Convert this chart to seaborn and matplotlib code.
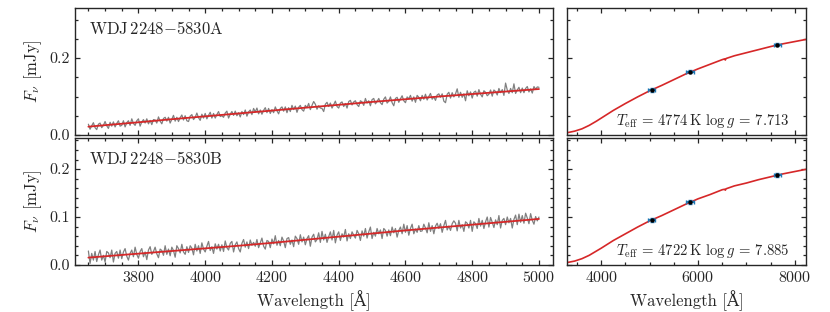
import numpy as np
import matplotlib
matplotlib.use("Agg")
import matplotlib.pyplot as plt
from matplotlib.ticker import MultipleLocator, AutoMinorLocator
import seaborn as sns

# ---- data (flux in 1e-3 mJy) ----
wave = np.arange(3650, 5001, 5)

flux_a = [
    28, 15, 24, 32, 19, 14, 28, 31, 19, 25, 35, 24, 17, 33, 23, 34, 21, 30, 37, 23,
    25, 37, 21, 32, 37, 25, 42, 30, 25, 37, 42, 23, 34, 40, 31, 42, 29, 38, 27, 40,
    39, 31, 47, 36, 29, 43, 46, 36, 46, 31, 41, 51, 36, 46, 35, 45, 52, 39, 50, 37,
    35, 49, 53, 40, 46, 57, 45, 38, 54, 44, 56, 42, 51, 59, 44, 56, 44, 53, 61, 48,
    50, 46, 57, 62, 44, 54, 61, 51, 62, 50, 58, 47, 61, 53, 65, 49, 60, 65, 53, 69,
    60, 70, 55, 65, 54, 64, 71, 58, 69, 56, 66, 58, 73, 63, 55, 69, 73, 62, 73, 58,
    71, 61, 77, 66, 75, 59, 72, 77, 66, 62, 77, 71, 82, 66, 77, 87, 80, 67, 76, 70,
    69, 61, 80, 85, 74, 83, 70, 79, 88, 74, 70, 83, 86, 74, 82, 70, 87, 90, 78, 86,
    89, 79, 74, 89, 86, 77, 95, 83, 89, 76, 92, 95, 81, 87, 95, 84, 79, 93, 99, 83,
    88, 99, 84, 76, 95, 98, 85, 94, 102, 89, 84, 99, 94, 103, 88, 99, 85, 103, 98, 89,
    103, 93, 106, 91, 100, 108, 93, 99, 90, 104, 107, 98, 107, 88, 84, 106, 111, 96, 110, 99,
    107, 120, 98, 111, 98, 107, 89, 115, 102, 112, 96, 111, 114, 101, 118, 106, 99, 115, 111, 102,
    106, 117, 101, 117, 113, 104, 121, 110, 118, 103, 135, 117, 108, 121, 110, 133, 108, 117, 124, 110,
    122, 110, 121, 126, 112, 120, 109, 126, 119, 125, 124,
]

flux_b = [
    29, 3, 24, 10, 28, 7, 21, 31, 10, 20, 6, 28, 25, 15, 31, 6, 24, 28, 14, 31,
    13, 27, 34, 18, 10, 24, 31, 17, 37, 22, 14, 28, 34, 17, 27, 11, 31, 38, 22, 28,
    37, 23, 15, 33, 30, 20, 40, 22, 33, 19, 37, 30, 16, 40, 34, 25, 43, 27, 22, 38,
    26, 40, 35, 21, 43, 29, 40, 24, 46, 33, 27, 39, 49, 30, 38, 24, 44, 33, 43, 29,
    42, 28, 50, 36, 31, 45, 49, 27, 42, 48, 34, 27, 45, 53, 37, 48, 34, 52, 41, 47,
    39, 53, 36, 46, 56, 39, 33, 51, 49, 36, 54, 44, 61, 41, 51, 40, 58, 50, 36, 55,
    57, 43, 52, 38, 60, 55, 43, 63, 48, 58, 42, 55, 61, 39, 58, 64, 48, 53, 67, 47,
    70, 52, 64, 47, 59, 69, 52, 72, 46, 62, 69, 51, 65, 58, 74, 50, 65, 55, 69, 62,
    56, 72, 65, 51, 71, 60, 76, 56, 69, 79, 55, 68, 60, 76, 65, 73, 55, 76, 72, 60,
    73, 61, 79, 67, 76, 58, 72, 79, 65, 85, 68, 82, 62, 76, 85, 65, 75, 68, 82, 70,
    71, 85, 77, 67, 88, 70, 82, 65, 81, 87, 76, 86, 68, 82, 93, 73, 81, 72, 86, 92,
    87, 71, 93, 77, 84, 70, 90, 87, 77, 93, 70, 90, 86, 76, 97, 81, 93, 76, 90, 100,
    79, 99, 89, 78, 94, 84, 103, 77, 93, 97, 84, 100, 88, 97, 77, 95, 104, 84, 106, 89,
    103, 87, 108, 98, 86, 107, 93, 85, 101, 92, 100,
]

# model fitted to the spectra (mJy)
mod_wave = [3650, 3700, 3800, 3900, 4000, 4100, 4200, 4300, 4400, 4500, 4600, 4700, 4800, 4900, 5000]
mod_a = [0.0216, 0.0255, 0.033, 0.041, 0.0485, 0.056, 0.0635, 0.071, 0.0785, 0.086, 0.093, 0.100, 0.1065, 0.113, 0.1195]
mod_b = [0.0152, 0.018, 0.0235, 0.029, 0.0345, 0.040, 0.046, 0.0525, 0.059, 0.0655, 0.072, 0.078, 0.084, 0.090, 0.096]

# synthetic SED and photometry
sed_wave = [3300, 3450, 3600, 3750, 3900, 4000, 4250, 4500, 4750, 5000, 5250, 5500, 5750, 6000, 6250,
            6500, 6550, 6563, 6580, 6750, 7000, 7250, 7500, 7750, 8000, 8250]
sed_a = [0.006, 0.010, 0.016, 0.025, 0.036, 0.044, 0.064, 0.082, 0.099, 0.115, 0.129, 0.144, 0.159, 0.172, 0.184,
         0.196, 0.198, 0.195, 0.199, 0.206, 0.214, 0.222, 0.230, 0.237, 0.243, 0.249]
sed_b = [0.005, 0.008, 0.013, 0.020, 0.029, 0.035, 0.051, 0.065, 0.079, 0.092, 0.103, 0.115, 0.127, 0.138, 0.147,
         0.157, 0.158, 0.156, 0.159, 0.165, 0.171, 0.178, 0.184, 0.190, 0.195, 0.200]

phot_wave = [5040, 5830, 7640]
phot_a = [0.117, 0.164, 0.2345]
phot_b = [0.094, 0.131, 0.188]
phot_xerr = 80
phot_yerr = 0.004

names = [r"WDJ$\,$2248$-$5830A", r"WDJ$\,$2248$-$5830B"]
params = [r"$T_{\rm eff}$ = 4774$\,$K $\log g$ = 7.713",
          r"$T_{\rm eff}$ = 4722$\,$K $\log g$ = 7.885"]
ylims = [(0, 0.33), (0, 0.265)]

# ---- style ----
sns.set_style("ticks")
plt.rcParams["font.family"] = ["cmr10", "DejaVu Serif"]
plt.rcParams["mathtext.fontset"] = "cm"
plt.rcParams["axes.formatter.use_mathtext"] = True
plt.rcParams["axes.linewidth"] = 1.0
plt.rcParams["font.size"] = 11.5

fig = plt.figure(figsize=(8.3, 3.12), dpi=100)
gs = fig.add_gridspec(2, 2, width_ratios=[2, 1], left=0.0904, right=0.971,
                      top=0.974, bottom=0.151, wspace=0.039, hspace=0.024)

spectra = [flux_a, flux_b]
models = [mod_a, mod_b]
seds = [sed_a, sed_b]
phots = [phot_a, phot_b]

for row in range(2):
    axl = fig.add_subplot(gs[row, 0])
    axr = fig.add_subplot(gs[row, 1])

    # spectrum + model
    sns.lineplot(x=wave, y=np.array(spectra[row]) / 1000, ax=axl, color="grey", lw=0.9)
    sns.lineplot(x=mod_wave, y=models[row], ax=axl, color="tab:red", lw=1.3)
    axl.text(0.03, 0.905, names[row], transform=axl.transAxes, ha="left", va="top", fontsize=12)

    # SED
    sns.lineplot(x=sed_wave, y=seds[row], ax=axr, color="tab:red", lw=1.2)
    axr.errorbar(phot_wave, phots[row], xerr=phot_xerr, yerr=phot_yerr, fmt="none",
                 ecolor="tab:blue", elinewidth=1.6, capsize=1.5, zorder=3)
    sns.scatterplot(x=phot_wave, y=phots[row], ax=axr, color="black", s=10, zorder=4,
                    edgecolor="black", linewidth=0)
    axr.text(0.93, 0.08, params[row], transform=axr.transAxes, ha="right", va="baseline",
             fontsize=10.6)

    axl.set_xlim(3610, 5042)
    axr.set_xlim(3290, 8230)
    for ax in (axl, axr):
        ax.set_ylim(*ylims[row])
        ax.yaxis.set_major_locator(MultipleLocator(0.2 if row == 0 else 0.1))
        ax.yaxis.set_minor_locator(AutoMinorLocator())
        ax.tick_params(which="both", direction="in", top=True, right=True, width=0.9)
        ax.tick_params(which="major", length=3.8)
        ax.tick_params(which="minor", length=2.2)
        ax.set_xlabel("")
        ax.set_ylabel("")
    axl.xaxis.set_major_locator(MultipleLocator(200))
    axl.xaxis.set_minor_locator(MultipleLocator(50))
    axr.xaxis.set_major_locator(MultipleLocator(2000))
    axr.xaxis.set_minor_locator(MultipleLocator(500))
    axr.tick_params(labelleft=False)
    axl.yaxis.set_major_formatter(plt.FormatStrFormatter("%.1f"))
    axl.set_ylabel(r"$F_\nu$ [mJy]", fontsize=12)
    if row == 0:
        axl.tick_params(labelbottom=False)
        axr.tick_params(labelbottom=False)
    else:
        axl.set_xlabel("Wavelength [\u00c5]", fontsize=12)
        axr.set_xlabel("Wavelength [\u00c5]", fontsize=12)

fig.savefig("out.png", dpi=100)
